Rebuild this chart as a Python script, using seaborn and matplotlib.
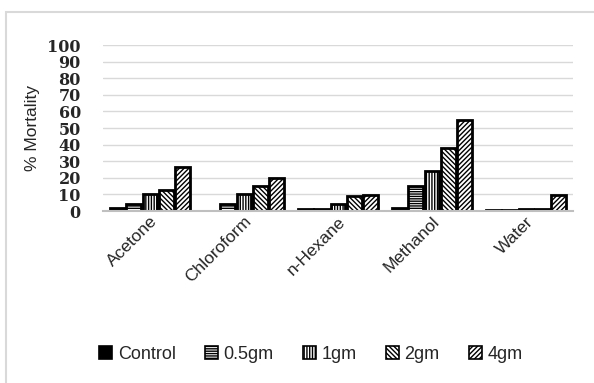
import pandas as pd
import matplotlib.pyplot as plt
import seaborn as sns
from matplotlib.patches import Patch, Rectangle

sns.set_style('white')

solvents = ['Acetone', 'Chloroform', 'n-Hexane', 'Methanol', 'Water']
doses = ['Control', '0.5gm', '1gm', '2gm', '4gm']

control = [2, 0, 1, 2, 0.5]
dose_05 = [4.5, 4, 1.5, 15, 0.5]
dose_1 = [10, 10, 4, 24, 1.4]
dose_2 = [12.5, 15, 9, 38, 1.4]
dose_4 = [26.5, 20, 9.7, 55, 9.5]

hatches = ['', '-------', '||||||', '\\\\\\\\\\\\\\', '///////']
fills = ['black', 'white', 'white', 'white', 'white']

rows = []
for dose, vals in zip(doses, [control, dose_05, dose_1, dose_2, dose_4]):
    for s, v in zip(solvents, vals):
        rows.append({'Solvent': s, 'Dose': dose, 'Mortality': v})
data = pd.DataFrame(rows)

plt.rcParams['hatch.linewidth'] = 1.0

fig = plt.figure(figsize=(5.94, 3.83), dpi=100)
ax = fig.add_axes([0.1734, 0.449, 0.7912, 0.4334])

sns.barplot(data=data, x='Solvent', y='Mortality', hue='Dose',
            order=solvents, hue_order=doses, palette=fills,
            width=0.86, gap=0.08, edgecolor='black', linewidth=2,
            legend=False, ax=ax)

for cont, h in zip(ax.containers, hatches):
    for bar in cont:
        bar.set_hatch(h)

ax.set_ylim(0, 100)
ax.set_yticks(range(0, 101, 10))
ax.set_xlim(-0.5, 4.5)
ax.yaxis.grid(True, color='#d9d9d9', linewidth=1)
ax.set_axisbelow(True)
sns.despine(ax=ax, left=True)
ax.spines['bottom'].set_color('#bfbfbf')
ax.spines['bottom'].set_linewidth(1.5)
ax.tick_params(axis='y', length=0, pad=16)
ax.tick_params(axis='x', length=0, pad=2)
for lab in ax.get_yticklabels():
    lab.set_fontfamily('DejaVu Serif')
    lab.set_fontweight('bold')
    lab.set_fontsize(11.5)
ax.set_xticks(range(len(solvents)))
ax.set_xticklabels(solvents, rotation=45, ha='right', rotation_mode='anchor',
                   fontsize=12.5, family='Liberation Sans')
ax.set_xlabel('')
ax.set_ylabel('% Mortality', fontsize=12.5, family='Liberation Sans',
              labelpad=5)

handles = [Patch(facecolor=f, edgecolor='black', hatch=h, linewidth=1.2, label=d)
           for d, f, h in zip(doses, fills, hatches)]
fig.legend(handles=handles, loc='center', bbox_to_anchor=(0.523, 0.075), ncol=5,
           frameon=False, handlelength=0.75, handleheight=0.75, handletextpad=0.3,
           columnspacing=1.6, prop={'family': 'Liberation Sans', 'size': 13})

fig.patches.append(Rectangle((6 / 594, -0.1), 1.2, 1.1 - 12 / 383,
                             transform=fig.transFigure, fill=False,
                             edgecolor='#d9d9d9', linewidth=1.5))

plt.savefig('out.png', dpi=100)
